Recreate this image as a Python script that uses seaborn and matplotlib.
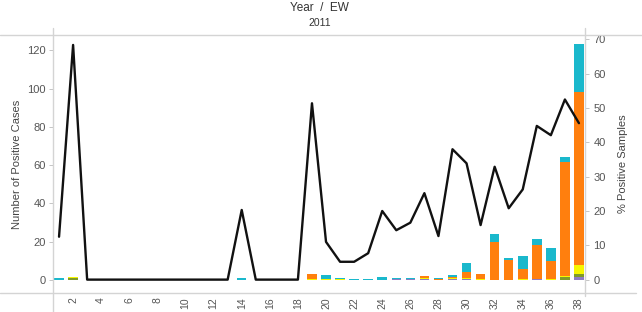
import numpy as np
import pandas as pd
import matplotlib
matplotlib.use("Agg")
import matplotlib.pyplot as plt
from matplotlib.lines import Line2D
import seaborn as sns

# epidemiological weeks 2011
weeks = list(range(1, 39))

# positive cases per week, one list per stack layer (bottom -> top)
purple = [0, 0, 0, 0, 0, 0, 0, 0, 0, 0,
          0, 0, 0, 0, 0, 0, 0, 0, 0, 0,
          0, 0, 0, 0, 0.3, 0.3, 0.7, 0, 0.5, 0.6,
          0, 0, 0, 0, 0.3, 0, 0, 1.7]
green = [0, 1.0, 0, 0, 0, 0, 0, 0, 0, 0,
         0, 0, 0, 0, 0, 0, 0, 0, 0, 0,
         0, 0, 0, 0, 0, 0, 0, 0, 0, 0,
         0, 0, 0, 0, 0, 0, 1.3, 1.5]
yellow = [0, 0.5, 0, 0, 0, 0, 0, 0, 0, 0,
          0, 0, 0, 0, 0, 0, 0, 0, 0.5, 0.5,
          0.5, 0, 0, 0, 0, 0, 0.3, 0, 0.3, 0.4,
          0.3, 0.2, 0.2, 0.3, 0.3, 0.6, 0.8, 4.5]
orange = [0, 0, 0, 0, 0, 0, 0, 0, 0, 0,
          0, 0, 0, 0, 0, 0, 0, 0, 2.5, 0,
          0, 0, 0, 0, 0, 0, 1.3, 0.3, 1.0, 3.3,
          2.8, 19.5, 10.4, 5.3, 17.5, 9.4, 59.7, 90.7]
cyan = [1.0, 0, 0, 0, 0, 0, 0, 0, 0, 0,
        0, 0, 0, 1.0, 0, 0, 0, 0, 0, 2.0,
        0.5, 0.7, 0.7, 1.3, 0.5, 0.5, 0, 0.8, 0.8, 4.4,
        0, 4.2, 0.7, 6.9, 3.5, 6.6, 2.6, 25.0]

# % positive samples
pct_positive = [12.5, 68.4, 0, 0, 0, 0, 0, 0, 0, 0,
                0, 0, 0, 20.3, 0, 0, 0, 0, 51.4, 11.0,
                5.2, 5.2, 7.7, 20.0, 14.4, 16.6, 25.2, 12.7, 38.0, 33.9,
                15.9, 32.9, 20.8, 26.3, 44.8, 42.1, 52.5, 45.6]

layers = [("purple", purple, "#8e7cc3"),
          ("green", green, "#7f9a2c"),
          ("yellow", yellow, "#f6f600"),
          ("orange", orange, "#ff7f0e"),
          ("cyan", cyan, "#1ab8cc")]

df = pd.DataFrame({"week": weeks})
running = np.zeros(len(weeks))
for name, vals, _ in layers:
    running = running + np.array(vals)
    df[name] = running

sns.set_style("white")
plt.rcParams["font.family"] = ["Liberation Sans", "DejaVu Sans"]

fig = plt.figure(figsize=(6.42, 3.12), dpi=100)
ax = fig.add_axes([53 / 642, 1 - 293 / 312, 532 / 642, 258 / 312])

# draw cumulative heights top layer first so lower layers sit on top
for name, _, col in reversed(layers):
    sns.barplot(data=df, x="week", y=name, native_scale=True, color=col,
                saturation=1, width=0.68, linewidth=0, errorbar=None, ax=ax)

ax2 = ax.twinx()
sns.lineplot(x=weeks, y=pct_positive, ax=ax2, color="#111111", linewidth=1.7)

ax.set_xlim(0.57, 38.43)
ax.set_ylim(-6.8, 128)
ax2.set_ylim(-3.9, 71.3)

ax.set_xticks(list(range(2, 39, 2)))
ax.set_xticklabels([str(w) for w in range(2, 39, 2)], rotation=90)
ax.set_yticks([0, 20, 40, 60, 80, 100, 120])
ax2.set_yticks([0, 10, 20, 30, 40, 50, 60, 70])

grey = "#555555"
ax.tick_params(axis="x", length=0, pad=3, labelsize=7.5, colors=grey)
ax.tick_params(axis="y", length=3, width=0.6, color="#bbbbbb", pad=2,
               labelsize=8, labelcolor=grey)
ax2.tick_params(axis="y", length=3, width=0.6, color="#bbbbbb", pad=3,
                labelsize=8, labelcolor=grey)

ax.set_xlabel("")
ax.set_ylabel("Number of Positive Cases", fontsize=8, color="#444444", labelpad=4)
ax2.set_ylabel("% Positive Samples", fontsize=8, color="#444444", labelpad=9)

for a in (ax, ax2):
    for sp in a.spines.values():
        sp.set_visible(False)

# frame lines of the original layout
lc = "#d4d4d4"
fig.add_artist(Line2D([0, 1], [1 - 35 / 312] * 2, color=lc, lw=1))
fig.add_artist(Line2D([0, 0.99], [1 - 293 / 312] * 2, color=lc, lw=1))
fig.add_artist(Line2D([53 / 642] * 2, [0, 1 - 28 / 312], color=lc, lw=1))
fig.add_artist(Line2D([585 / 642] * 2, [1 - 296 / 312, 1 - 28 / 312], color=lc, lw=1))

fig.text(0.498, 1 - 8 / 312, "Year  /  EW", ha="center", va="center",
         fontsize=8.5, color="#333333")
fig.text(0.498, 1 - 23 / 312, "2011", ha="center", va="center",
         fontsize=7.5, color="#333333")

fig.savefig("out.png", dpi=100)
